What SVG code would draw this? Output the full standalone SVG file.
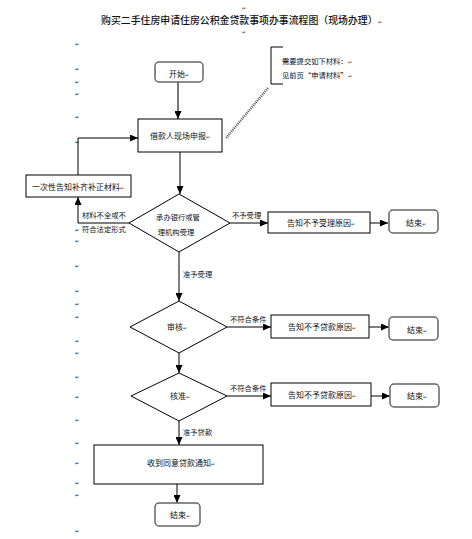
<svg xmlns="http://www.w3.org/2000/svg" width="472" height="539" viewBox="0 0 472 539">
<defs>
<marker id="arr" markerUnits="userSpaceOnUse" markerWidth="8" markerHeight="7" refX="8" refY="3.5" orient="auto"><path d="M0,0 L8,3.5 L0,7 z" fill="#000"/></marker>
<style>
text{font-family:"Noto Sans CJK SC","Noto Sans",sans-serif;fill:#111}
.t{font-size:8px}
.l{font-size:7.3px}
.pm{font-size:5px;fill:#444}
.box{fill:#fff;stroke:#000;stroke-width:1}
.rbox{fill:#fff;stroke:#666;stroke-width:1.5}
.c{fill:none;stroke:#000;stroke-width:1;marker-end:url(#arr)}
</style>
</defs>
<rect width="472" height="539" fill="#fff"/>
<g id="title">
<text x="101" y="24" style="font-size:9.9px;font-weight:500">购买二手住房申请住房公积金贷款事项办事流程图（现场办理）<tspan class="pm">↵</tspan></text>
<text x="242" y="10" class="pm">↵</text>
<text x="242" y="34" class="pm">↵</text>
</g>
<g id="margin-marks" class="pm">
<text x="75" y="46">↵</text><text x="75" y="71">↵</text><text x="75" y="84">↵</text><text x="75" y="96">↵</text><text x="75" y="119">↵</text><text x="75" y="144">↵</text><text x="75" y="232">↵</text><text x="75" y="243">↵</text><text x="75" y="268">↵</text><text x="75" y="293">↵</text><text x="75" y="306">↵</text><text x="75" y="319">↵</text><text x="75" y="343">↵</text><text x="75" y="355">↵</text><text x="75" y="379">↵</text><text x="75" y="399">↵</text><text x="75" y="422">↵</text><text x="75" y="445">↵</text><text x="75" y="465">↵</text><text x="75" y="485">↵</text><text x="75" y="497">↵</text><text x="75" y="533">↵</text>
</g>
<g id="connectors">
<path d="M178,82 V119" fill="none" stroke="#555" stroke-width="1.6" marker-end="url(#arr)"/>
<path class="c" d="M180,152 V194"/>
<path class="c" d="M230,223 H268"/>
<path class="c" d="M370,223 H388"/>
<path class="c" d="M129,223 H78 V197"/>
<path class="c" d="M78,175 V138 H138"/>
<path class="c" d="M179,252 V301"/>
<path class="c" d="M227,327 H271"/>
<path class="c" d="M369,327 H389"/>
<path class="c" d="M179,353 V373"/>
<path class="c" d="M227,396 H271"/>
<path class="c" d="M371,396 H390"/>
<path class="c" d="M179,421 V445"/>
<path class="c" d="M177,484 V503"/>
<path d="M268,88 L226,138" fill="none" stroke="#555" stroke-width="2.4" stroke-dasharray="1,1"/>
<text x="232" y="218" class="l">不予受理</text>
<text x="82" y="218" class="l">材料不全或不</text>
<text x="82" y="232" class="l">符合法定形式</text>
<text x="183" y="277" class="l">准予受理</text>
<text x="230" y="322" class="l">不符合条件</text>
<text x="230" y="391" class="l">不符合条件</text>
<text x="183" y="435" class="l">准予贷款</text>
</g>
<g id="start">
<rect class="rbox" x="155" y="62" width="48" height="20" rx="4"/>
<text x="169" y="77" class="t">开始<tspan class="pm">↵</tspan></text>
</g>
<g id="note">
<path d="M283,47 H271 V84 H283" fill="none" stroke="#000" stroke-width="1"/>
<text x="282" y="64" class="l">需要提交如下材料：<tspan class="pm">↵</tspan></text>
<text x="282" y="78" class="l">见前页“申请材料”<tspan class="pm">↵</tspan></text>
</g>
<g id="apply">
<rect class="box" x="138" y="119" width="84" height="33"/>
<text x="150" y="139" class="t">借款人现场申报<tspan class="pm">↵</tspan></text>
</g>
<g id="supplement">
<rect class="box" x="26" y="175" width="105" height="22"/>
<text x="32" y="190" class="t">一次性告知补齐补正材料<tspan class="pm">↵</tspan></text>
</g>
<g id="accept">
<path class="box" d="M179,194 L230,223 L179,252 L129,223 z"/>
<text x="178" y="220" class="l" text-anchor="middle">承办银行或管</text>
<text x="176" y="235" class="l" text-anchor="middle">理机构受理</text>
</g>
<g id="reject1">
<rect class="box" x="268" y="212" width="102" height="21"/>
<text x="287" y="226" class="t">告知不予受理原因<tspan class="pm">↵</tspan></text>
</g>
<g id="end1">
<rect class="rbox" x="389" y="210" width="49" height="23" rx="4"/>
<text x="406" y="226" class="t">结束<tspan class="pm">↵</tspan></text>
</g>
<g id="review">
<path class="box" d="M179,301 L227,327 L179,353 L130,327 z"/>
<text x="167" y="330" class="t">审核<tspan class="pm">↵</tspan></text>
</g>
<g id="reject2">
<rect class="box" x="271" y="315" width="98" height="23"/>
<text x="288" y="330" class="t">告知不予贷款原因<tspan class="pm">↵</tspan></text>
</g>
<g id="end2">
<rect class="rbox" x="389" y="317" width="49" height="23" rx="4"/>
<text x="407" y="333" class="t">结束<tspan class="pm">↵</tspan></text>
</g>
<g id="approve">
<path class="box" d="M179,373 L227,396 L179,421 L131,396 z"/>
<text x="170" y="399" class="t">核准<tspan class="pm">↵</tspan></text>
</g>
<g id="reject3">
<rect class="box" x="271" y="383" width="100" height="23"/>
<text x="288" y="398" class="t">告知不予贷款原因<tspan class="pm">↵</tspan></text>
</g>
<g id="end3">
<rect class="rbox" x="390" y="384" width="49" height="23" rx="4"/>
<text x="407" y="399" class="t">结束<tspan class="pm">↵</tspan></text>
</g>
<g id="notice">
<rect class="box" x="94" y="445" width="169" height="39"/>
<text x="147" y="466" class="t">收到同意贷款通知<tspan class="pm">↵</tspan></text>
</g>
<g id="end4">
<rect class="rbox" x="155" y="503" width="45" height="23" rx="4"/>
<text x="170" y="518" class="t">结束<tspan class="pm">↵</tspan></text>
</g>
</svg>
